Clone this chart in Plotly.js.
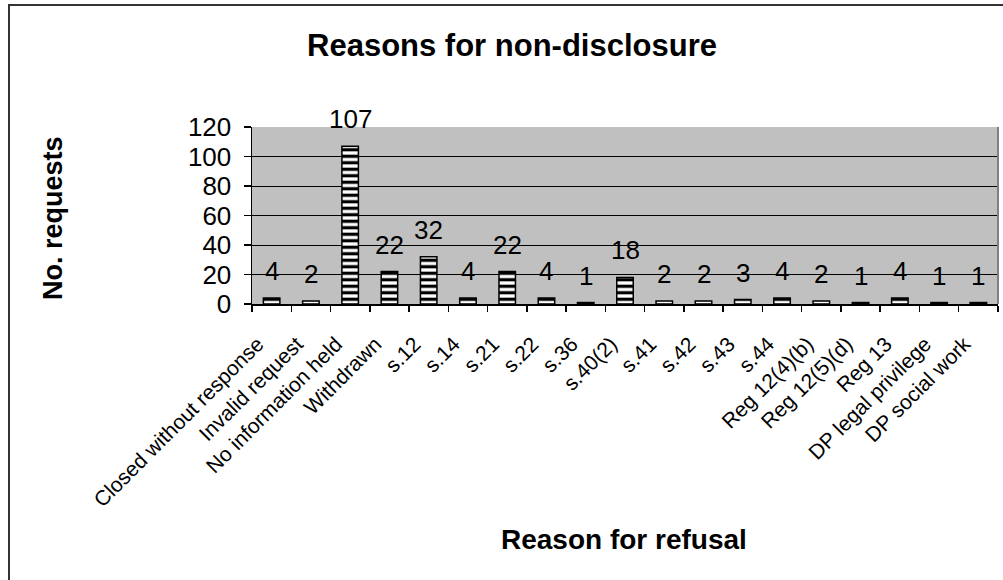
<!DOCTYPE html>
<html>
<head>
<meta charset="utf-8">
<script src="https://cdn.plot.ly/plotly-3.0.1.min.js"></script>
<style>
  html, body { margin: 0; padding: 0; background: #ffffff; }
  #chart { width: 1003px; height: 580px; }
</style>
</head>
<body>
<div id="chart"></div>
<script>
// Reasons given for refusing requests, with the number of requests for each
const reasons = [
  'Closed without response', 'Invalid request', 'No information held', 'Withdrawn',
  's.12', 's.14', 's.21', 's.22', 's.36', 's.40(2)', 's.41', 's.42', 's.43', 's.44',
  'Reg 12(4)(b)', 'Reg 12(5)(d)', 'Reg 13', 'DP legal privilege', 'DP social work'
];
const requestCounts = [4, 2, 107, 22, 32, 4, 22, 4, 1, 18, 2, 2, 3, 4, 2, 1, 4, 1, 1];
const yTicks = [0, 20, 40, 60, 80, 100, 120];

const FONT = 'Liberation Sans, Arial, sans-serif';

// plot-area geometry in pixels, used to place the free text and frame
const M = { l: 252, r: 5, t: 127, b: 276 };
const W = 1003, H = 580;
const pw = W - M.l - M.r, ph = H - M.t - M.b;
const px2x = p => (p - M.l) / pw;
const px2y = p => (H - M.b - p) / ph;

const bars = {
  type: 'bar',
  x: reasons,
  y: requestCounts,
  marker: {
    color: '#ffffff',
    line: { color: '#000000', width: 1.5 },
    pattern: { shape: '-', fgcolor: '#000000', bgcolor: '#ffffff', size: 6.5, solidity: 0.5 }
  },
  hoverinfo: 'x+y'
};

// value labels above each bar
const valueLabels = reasons.map((r, i) => ({
  x: r, y: requestCounts[i], xref: 'x', yref: 'y',
  text: String(requestCounts[i]),
  showarrow: false, yanchor: 'bottom', yshift: 10,
  font: { family: FONT, size: 26, color: '#000000' }
}));

const axisTitles = [
  {
    text: 'Reason for refusal', xref: 'paper', yref: 'paper',
    x: px2x(624), y: px2y(539), xanchor: 'center', yanchor: 'middle', showarrow: false,
    font: { family: FONT, size: 28, color: '#000000', weight: 'bold' }
  },
  {
    text: 'No. requests', xref: 'paper', yref: 'paper',
    x: px2x(53), y: px2y(218), xanchor: 'center', yanchor: 'middle', showarrow: false,
    textangle: -90,
    font: { family: FONT, size: 27, color: '#000000', weight: 'bold' }
  }
];

const layout = {
  width: W, height: H,
  margin: M,
  paper_bgcolor: '#ffffff',
  plot_bgcolor: '#c0c0c0',
  showlegend: false,
  bargap: 0.58,
  title: {
    text: 'Reasons for non-disclosure',
    font: { family: FONT, size: 31, color: '#000000', weight: 'bold' },
    xref: 'container', yref: 'container',
    x: 512 / W, y: 1 - 45 / H, xanchor: 'center', yanchor: 'middle'
  },
  xaxis: {
    type: 'category',
    tickson: 'boundaries',
    ticks: 'outside', ticklen: 6, tickcolor: '#000000', tickwidth: 1.5,
    showline: true, linecolor: '#000000', linewidth: 1.5,
    tickangle: -45,
    ticklabelshift: -14,
    ticklabelstandoff: 18,
    tickfont: { family: FONT, size: 21, color: '#000000' },
    showgrid: false
  },
  yaxis: {
    range: [0, 120],
    tickvals: yTicks,
    ticktext: yTicks.map(String),
    ticks: 'outside', ticklen: 7, tickcolor: '#000000', tickwidth: 1.5,
    ticklabelstandoff: 7,
    showline: true, linecolor: '#000000', linewidth: 1.5,
    showgrid: true, gridcolor: '#000000', gridwidth: 1,
    zeroline: false,
    tickfont: { family: FONT, size: 26, color: '#000000' }
  },
  annotations: valueLabels.concat(axisTitles),
  shapes: [
    // outer chart frame
    {
      type: 'rect', xref: 'paper', yref: 'paper', layer: 'below',
      x0: px2x(9), x1: px2x(1012), y0: px2y(590), y1: px2y(5),
      line: { color: '#333333', width: 2 }, fillcolor: 'rgba(0,0,0,0)'
    },
    // right edge of the plot area
    {
      type: 'line', xref: 'paper', yref: 'paper',
      x0: 1, x1: 1, y0: 0, y1: 1,
      line: { color: '#808080', width: 2 }
    }
  ]
};

Plotly.newPlot('chart', [bars], layout, { staticPlot: true, displayModeBar: false });
</script>
</body>
</html>
